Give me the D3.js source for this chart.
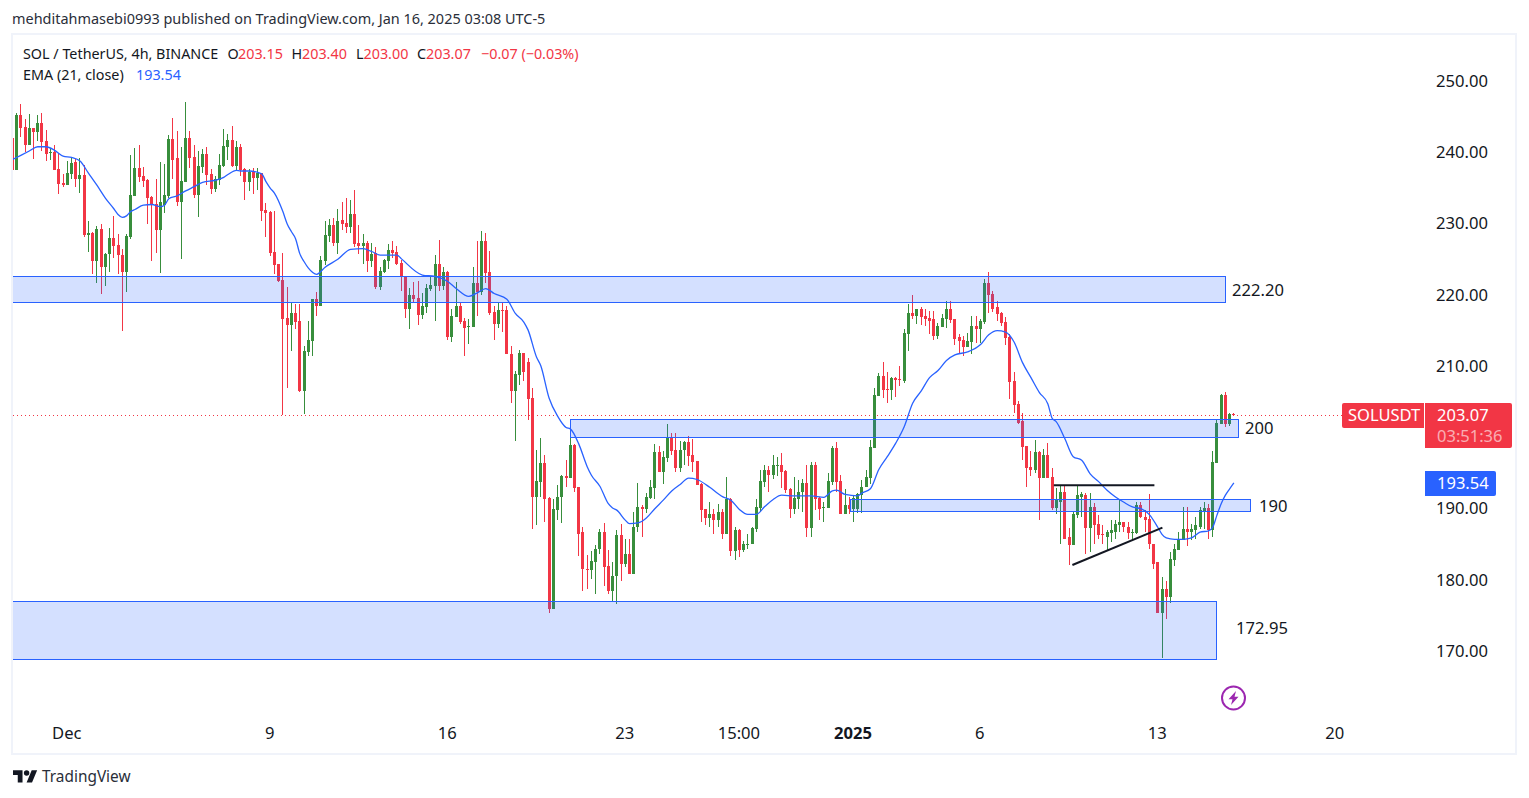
<!DOCTYPE html>
<html>
<head>
<meta charset="utf-8">
<script src="https://cdnjs.cloudflare.com/ajax/libs/d3/7.8.5/d3.min.js"></script>
<style>
html,body{margin:0;padding:0;background:#fff;overflow:hidden}
svg{display:block}
text{font-family:"Noto Sans",sans-serif}
</style>
</head>
<body>
<svg id="c" width="1529" height="798"></svg>
<script>
// 4h candles; the first one is cut by the left edge of the pane (index -1)
const firstIndex = -1;
const opens = [242.0,237.4,245.2,243.5,240.9,243.3,242.8,244.1,241.5,239.9,
240.0,237.6,235.6,235.3,236.9,238.6,236.2,236.7,228.3,228.6,
224.7,229.1,223.8,225.6,227.9,226.9,225.5,223.1,228.0,233.8,
237.7,236.6,236.0,233.6,232.7,229.0,232.5,233.8,241.8,239.1,
232.9,235.7,241.9,239.3,233.9,237.9,239.7,236.9,234.8,236.0,
238.0,240.7,241.6,238.0,240.7,237.6,235.7,237.3,236.3,237.0,
231.8,231.5,225.9,224.2,222.0,216.6,215.7,217.3,216.2,206.4,
211.9,213.4,219.3,218.3,224.6,228.2,229.7,227.2,230.4,230.0,
229.4,231.3,227.2,226.8,227.2,224.6,225.8,221.0,223.1,224.6,
226.2,225.9,224.4,222.5,217.9,219.9,219.5,217.1,218.2,220.7,
221.1,224.2,221.1,223.1,214.0,216.8,218.3,216.2,215.4,215.4,
221.6,220.3,227.5,223.1,217.5,215.8,217.8,217.8,211.6,206.4,
208.6,211.7,210.5,205.4,191.6,193.6,196.3,191.4,175.8,189.7,
191.5,194.5,194.2,198.8,192.9,186.6,181.5,181.3,182.4,184.2,
186.6,181.8,178.3,180.4,186.2,182.1,183.5,180.7,187.3,190.1,
189.8,191.4,192.8,197.8,195.0,197.0,199.8,198.1,195.6,198.1,
199.2,197.4,196.6,193.3,189.8,188.6,189.1,188.3,189.4,186.4,
191.2,183.9,186.9,184.1,184.9,184.9,187.0,190.0,193.6,195.4,
194.6,195.9,196.1,195.2,192.6,189.8,191.2,192.2,193.5,187.2,
196.1,191.4,190.0,190.0,193.6,198.4,193.8,189.1,190.4,189.8,
189.8,191.8,192.9,194.2,198.4,205.7,208.5,206.7,206.5,208.2,
208.1,207.8,214.4,217.4,216.9,217.9,216.9,216.6,216.5,214.1,
215.4,216.5,217.9,216.5,214.0,213.6,212.6,213.3,215.5,215.1,
216.1,221.6,220.0,218.2,217.3,216.1,214.0,207.8,204.6,202.2,
198.7,195.7,195.3,197.8,194.2,197.4,194.3,190.0,190.9,192.2,
185.9,184.8,189.0,191.6,191.8,187.2,190.2,187.7,186.3,186.0,
186.5,186.7,187.6,188.0,187.3,186.5,186.5,190.4,188.8,188.4,
185.0,182.4,175.2,178.7,177.5,182.7,184.1,185.5,187.0,186.7,
186.9,187.4,189.5,190.0,186.9,196.3,201.8,205.8,201.8,203.15];
const closes = [237.4,245.2,243.3,240.9,243.3,242.8,244.1,241.4,239.7,240.0,
237.4,235.5,235.3,237.0,238.4,236.2,236.7,228.3,228.6,224.7,
229.1,223.8,225.6,227.9,226.8,225.5,223.1,228.2,233.9,237.7,
236.4,235.9,233.5,232.5,229.0,232.9,233.9,241.8,238.8,232.9,
235.9,241.9,239.1,233.9,238.0,239.7,236.7,234.8,236.2,238.1,
240.8,241.6,238.0,240.7,237.4,235.7,237.2,236.3,237.0,231.7,
231.4,225.8,224.1,221.8,216.5,215.7,217.3,216.1,206.4,212.0,
213.6,219.3,218.3,224.8,228.3,229.7,227.2,230.3,229.9,229.4,
231.3,227.0,226.8,227.2,224.6,225.6,221.0,223.2,224.8,226.2,
225.8,224.2,222.4,217.9,219.9,219.3,217.1,218.3,220.9,221.3,
224.2,221.1,223.1,214.0,216.9,218.3,216.1,215.2,215.5,221.6,
220.3,227.5,223.0,217.3,215.8,217.8,217.7,211.6,206.4,208.8,
211.7,209.1,205.3,191.6,193.8,196.3,191.2,175.8,189.8,191.6,
194.5,194.2,198.8,192.8,186.4,181.4,181.4,182.5,184.3,186.6,
181.7,178.3,180.5,186.2,182.1,183.5,180.7,187.4,190.1,189.8,
191.5,192.9,197.8,195.0,197.1,199.8,198.0,195.6,198.2,199.2,
197.3,196.4,193.2,189.7,188.6,189.1,188.3,189.4,186.4,191.2,
183.9,186.9,184.1,185.0,185.0,187.2,190.1,193.8,195.4,194.6,
196.0,196.0,195.0,192.5,189.8,191.4,192.3,193.5,187.2,196.1,
191.2,189.8,190.1,193.8,198.4,193.6,189.1,190.4,189.8,191.4,
191.9,193.0,194.3,198.5,205.8,208.5,206.5,206.5,208.2,207.9,
207.9,214.5,217.4,216.9,217.9,216.8,216.5,216.2,214.1,215.5,
216.6,217.9,216.4,213.7,213.4,212.6,213.4,215.5,215.1,216.2,
221.6,219.9,218.0,217.2,216.0,213.8,207.7,204.4,202.0,198.5,
195.6,195.3,197.8,194.2,197.4,194.2,190.0,191.2,192.2,185.7,
184.8,189.1,191.8,191.9,187.2,190.2,187.6,186.2,186.2,186.6,
186.9,187.7,188.0,187.3,186.5,186.6,190.4,188.7,188.3,184.9,
182.2,175.2,178.7,177.5,182.8,184.2,185.6,187.0,186.7,187.0,
187.6,189.7,190.0,186.9,196.4,201.9,205.8,201.8,203.2,203.07];
const highs = [242.0,245.4,246.7,244.6,245.3,243.3,245.2,245.4,243.0,240.5,
241.0,239.8,236.9,238.7,239.3,239.0,239.1,238.1,230.3,228.7,
229.6,229.9,225.8,229.3,231.0,228.4,226.3,228.4,239.5,240.5,
240.9,237.9,236.2,233.8,236.2,238.6,238.3,242.3,244.7,242.9,
240.7,247.0,242.9,240.9,240.1,240.4,240.7,237.6,236.6,239.7,
243.2,242.5,243.6,241.5,241.1,237.7,237.6,237.7,237.7,237.0,
232.8,231.7,231.7,224.2,225.8,221.0,218.9,218.6,218.6,212.7,
216.2,219.3,220.3,225.4,230.3,230.6,230.7,232.0,232.9,233.5,
233.2,234.6,229.7,228.4,227.5,227.2,226.6,223.8,224.9,227.0,
227.5,226.8,224.8,222.5,220.9,221.7,221.8,220.2,221.4,222.4,
225.5,227.6,223.8,223.2,218.0,221.7,218.9,216.6,216.5,223.8,
227.5,228.9,228.6,226.1,218.3,218.9,218.8,218.3,212.7,209.2,
212.2,211.7,211.0,206.9,198.1,199.8,197.4,191.5,191.2,193.2,
194.7,196.7,202.3,199.0,193.0,187.4,183.4,183.9,184.8,187.0,
187.9,184.1,182.4,186.9,187.7,185.6,185.7,189.5,193.5,190.4,
192.1,193.9,199.0,198.7,198.0,201.8,200.5,200.5,199.4,199.4,
200.1,199.7,196.6,193.5,189.9,190.9,189.9,190.5,189.8,194.3,
191.4,187.3,187.0,185.3,186.3,187.4,191.2,195.3,196.0,195.9,
197.4,197.1,197.7,195.4,192.8,194.3,193.9,194.0,196.0,196.4,
196.4,191.5,190.8,194.9,198.7,199.2,194.7,192.6,191.5,191.8,
192.1,193.9,195.3,199.6,206.8,208.9,210.5,209.1,208.4,208.4,
209.9,215.1,218.6,219.9,218.0,218.2,217.9,217.6,217.6,215.9,
217.2,219.0,219.0,216.5,214.4,214.1,214.5,216.9,216.9,216.5,
222.1,223.1,220.4,219.0,217.5,216.8,214.4,209.1,205.0,203.3,
198.7,198.0,199.5,198.0,198.3,199.1,195.6,192.8,193.2,193.1,
187.2,189.5,193.2,192.2,192.1,192.1,190.7,189.0,187.6,186.9,
188.3,188.3,191.2,188.1,188.0,187.0,190.8,190.8,189.7,191.9,
185.0,182.4,180.3,179.7,183.8,185.0,186.7,190.1,190.1,187.7,
188.8,190.2,190.8,190.5,198.0,202.3,206.0,206.3,203.4,203.4];
const lows = [237.4,237.4,242.1,240.0,240.9,239.0,241.5,240.1,238.7,238.8,
237.4,234.1,235.1,235.3,236.2,235.0,234.2,228.0,225.9,222.8,
221.6,220.0,221.1,223.1,225.1,222.8,214.9,220.3,227.7,233.8,
235.7,235.0,229.9,224.7,225.8,223.0,231.4,233.5,236.2,232.4,
224.9,235.7,237.7,233.5,230.8,237.0,235.3,234.1,234.3,235.3,
237.9,238.8,237.9,237.4,236.6,233.2,234.5,234.1,234.6,230.3,
228.0,225.4,222.8,221.7,203.0,206.9,212.1,215.1,206.3,203.2,
211.3,211.4,216.9,218.3,224.1,227.3,226.8,225.6,229.0,228.6,
228.6,226.6,225.6,224.2,223.1,223.8,220.7,220.6,223.0,223.5,
225.1,224.1,220.4,216.6,215.1,218.9,215.7,216.5,217.3,220.4,
216.2,220.4,220.6,213.6,213.3,216.8,215.8,211.3,213.0,215.4,
216.9,219.9,221.6,217.1,213.6,215.2,214.7,211.6,204.7,199.4,
207.2,207.8,202.3,187.0,187.6,191.6,188.1,175.2,175.8,188.3,
187.9,193.0,194.2,192.2,183.2,178.3,178.7,180.0,177.9,183.6,
179.0,177.9,176.9,176.5,179.8,181.7,180.7,180.7,186.7,186.0,
189.3,191.2,191.2,195.0,193.3,196.4,197.5,195.0,195.0,196.0,
195.9,195.0,193.2,188.1,187.6,187.4,186.4,187.3,185.6,186.4,
183.2,182.7,183.1,183.8,184.2,184.9,186.7,189.5,193.0,192.3,
194.0,194.5,192.8,192.1,188.6,189.1,189.8,189.4,186.0,185.9,
189.7,188.3,188.0,190.0,193.2,192.3,189.1,189.1,189.1,188.0,
189.3,189.3,192.9,193.3,198.4,205.7,205.4,204.7,205.1,205.6,
207.1,207.5,212.0,216.5,215.8,215.7,215.5,214.4,213.6,213.7,
215.4,215.2,216.0,212.9,211.6,211.4,212.6,211.6,213.1,213.1,
215.8,217.4,217.5,216.2,215.5,212.9,205.3,203.4,201.8,196.7,
193.0,194.5,194.9,188.3,194.2,194.2,189.7,189.1,185.0,185.7,
182.0,184.8,188.6,188.8,183.5,183.8,185.0,185.7,185.0,184.1,
185.2,185.6,186.6,186.7,185.6,185.3,186.3,188.6,186.6,184.2,
181.5,175.2,168.9,174.4,176.6,181.8,184.1,185.5,184.6,185.5,
185.7,187.0,187.0,185.7,186.0,196.3,201.8,201.3,201.5,203.0];

// EMA (21, close) read at these candle indices
const emaIndex = [-1,1,3,5,7,9,11,13,15,17,19,21,23,24,25,26,27,28,30,32,34,35,36,38,40,42,44,47,49,50,52,53,55,58,59,60,61,63,64,65,66,67,68,69,71,73,76,79,82,84,86,90,91,96,99,102,104,107,109,111,113,116,118,120,121,123,124,126,128,130,131,133,135,136,138,140,141,142,144,145,147,149,151,153,155,157,159,161,164,166,167,169,171,173,175,177,179,181,184,188,191,193,194,196,199,200,202,204,206,208,210,212,214,216,218,220,222,225,228,230,232,234,236,238,240,242,244,245,246,248,250,252,254,256,258,260,262,264,266,268,270,271,272,274,276,278,280,282,283,284,285,286,287,288];
const emaValues = [238.9,239.5,240.1,240.7,240.7,240.2,239.4,239.2,238.7,237.0,235.3,233.5,232.0,231.2,230.8,231.0,231.6,231.9,232.5,232.6,232.3,232.5,233.4,233.8,234.5,235.1,235.7,236.0,236.4,236.8,237.4,237.3,237.3,236.9,235.8,234.9,234.2,231.6,229.9,228.8,227.8,225.7,224.6,223.7,222.8,223.8,224.9,226.3,226.4,226.0,225.5,225.5,225.0,222.7,222.5,221.8,220.8,219.7,220.2,220.8,220.1,219.3,217.3,216.1,215.0,211.2,210.0,205.4,202.9,201.3,201.1,199.0,195.8,194.6,193.05,190.6,190.0,189.7,188.3,187.8,187.9,188.6,189.9,191.1,192.4,193.3,194.2,194.0,192.9,192.0,191.6,191.1,189.8,189.1,189.1,190.2,191.2,191.8,191.7,191.7,191.5,192.4,192.5,191.9,191.7,192.1,192.7,195.4,197.2,199.1,201.4,204.7,206.4,208.3,209.3,210.7,211.5,211.9,212.9,214.3,214.9,214.7,213.3,210.4,208.3,206.2,204.6,202.6,202.1,199.75,197.2,196.7,194.8,193.7,192.5,191.55,190.8,190.15,189.9,189.07,187.3,186.3,185.8,185.6,185.6,185.8,186.6,186.8,187.3,189.0,190.6,191.8,192.7,193.54];

// Rectangles drawn on the chart
const zoneTops = [222.56,202.49,191.22,176.88];
const zoneBottoms = [218.9,199.95,189.54,168.77];
const zoneStarts = [-2,131,197.1,-2];
const zoneEnds = [286,289,291.8,283.75];
const zoneLabels = ["222.20","200","190","172.95"];

// Hand-drawn trend lines: [start index, start price, end index, end price]
const trendStartIndex = [245.4,249.8];
const trendStartPrice = [193.18,182.0];
const trendEndIndex = [269.2,271.1];
const trendEndPrice = [193.2,187.24];

const priceTicks = [250,240,230,220,210,190,180,170];
const timeTickIndex = [12,60,102,144,171,198,228,270,312];
const timeTickLabels = ["Dec","9","16","23","15:00","2025","6","13","20"];

const lastPrice = 203.07;
const emaLast = 193.54;

const UP = "#388e3c", DOWN = "#f23645", BLUE = "#2962ff", TEXT = "#131722";
const svg = d3.select("#c");
const x = d3.scaleLinear().domain([0,312]).range([16.6,1335.3]);
const y = d3.scaleLinear().domain([250,170]).range([80.5,650.5]);

// frame
svg.append("rect").attr("x",12).attr("y",34).attr("width",1504).attr("height",720)
  .attr("fill","#fff").attr("stroke","#f0f3fa").attr("stroke-width",2);
svg.append("clipPath").attr("id","pane").append("rect")
  .attr("x",13).attr("y",35).attr("width",1502).attr("height",718);
const pane = svg.append("g").attr("clip-path","url(#pane)");

// last price line
pane.append("line").attr("x1",13).attr("x2",1342)
  .attr("y1",Math.round(y(lastPrice))+.5).attr("y2",Math.round(y(lastPrice))+.5)
  .attr("stroke",DOWN).attr("stroke-width",1).attr("stroke-dasharray","1 3");

// candles
const candles = opens.map((o,k)=>({i:k+firstIndex,o,c:closes[k],h:highs[k],l:lows[k]}));
const col = d=>Math.round(x(d.i)-.5);
const gC = pane.append("g").attr("shape-rendering","crispEdges");
gC.selectAll("rect.w").data(candles).join("rect").attr("class","w")
  .attr("x",col).attr("width",1)
  .attr("y",d=>Math.round(y(d.h)))
  .attr("height",d=>Math.max(1,Math.round(y(d.l))-Math.round(y(d.h))))
  .attr("fill",d=>d.c>=d.o?UP:DOWN);
gC.selectAll("rect.b").data(candles).join("rect").attr("class","b")
  .attr("x",d=>col(d)-1).attr("width",3)
  .attr("y",d=>Math.round(y(Math.max(d.o,d.c))))
  .attr("height",d=>Math.max(1,Math.round(y(Math.min(d.o,d.c)))-Math.round(y(Math.max(d.o,d.c)))))
  .attr("fill",d=>d.c>=d.o?UP:DOWN);

// EMA
pane.append("path").datum(emaIndex.map((v,k)=>[v,emaValues[k]]))
  .attr("fill","none").attr("stroke",BLUE).attr("stroke-width",1.3).attr("stroke-linejoin","round")
  .attr("d",d3.line().x(d=>x(d[0])).y(d=>y(d[1])).curve(d3.curveMonotoneX));

// zones
pane.selectAll("rect.z").data(zoneTops).join("rect").attr("class","z")
  .attr("x",(d,k)=>Math.round(x(zoneStarts[k]))+.5)
  .attr("width",(d,k)=>Math.round(x(zoneEnds[k]))-Math.round(x(zoneStarts[k])))
  .attr("y",d=>Math.round(y(d))+.5)
  .attr("height",(d,k)=>Math.round(y(zoneBottoms[k]))-Math.round(y(d)))
  .attr("fill","rgba(41,98,255,.2)").attr("stroke",BLUE).attr("stroke-width",1);

// trend lines
pane.selectAll("line.t").data(trendStartIndex).join("line").attr("class","t")
  .attr("x1",d=>x(d)).attr("y1",(d,k)=>y(trendStartPrice[k]))
  .attr("x2",(d,k)=>x(trendEndIndex[k])).attr("y2",(d,k)=>y(trendEndPrice[k]))
  .attr("stroke","#131722").attr("stroke-width",2);

// zone labels
const zoneLabelX = [1232,1245,1259,1236], zoneLabelY = [290,428,506,628];
svg.selectAll("text.zl").data(zoneLabels).join("text").attr("class","zl")
  .attr("x",(d,k)=>zoneLabelX[k]).attr("y",(d,k)=>zoneLabelY[k]).attr("dy",".35em")
  .attr("font-size",16.6).attr("fill",TEXT).text(d=>d);

// axes
const axP = svg.append("g").attr("transform","translate(1436,0.5)")
  .call(d3.axisRight(y).tickValues(priceTicks).tickSize(0).tickPadding(0).tickFormat(d3.format(".2f")));
axP.select(".domain").remove();
axP.selectAll("text").attr("font-size",16.6).attr("fill",TEXT).attr("font-family",'"Noto Sans",sans-serif');

const axT = svg.append("g").attr("transform","translate(-1,727.5)")
  .call(d3.axisBottom(x).tickValues(timeTickIndex).tickSize(0).tickPadding(0)
    .tickFormat((d,k)=>timeTickLabels[k]));
axT.select(".domain").remove();
axT.selectAll("text").attr("font-size",16.6).attr("fill",TEXT).attr("font-family",'"Noto Sans",sans-serif')
  .attr("font-weight",d=>d===198?"700":"400");

// header
svg.append("text").attr("x",12).attr("y",24).attr("font-size",14.45).attr("fill","#2a2e39")
  .text("mehditahmasebi0993 published on TradingView.com, Jan 16, 2025 03:08 UTC-5");

const legend = [
  [23,59,"SOL / TetherUS, 4h, BINANCE",TEXT],
  [227.5,59,"O",TEXT],[238,59,"203.15",DOWN],
  [291.5,59,"H",TEXT],[302,59,"203.40",DOWN],
  [356,59,"L",TEXT],[363.5,59,"203.00",DOWN],
  [417,59,"C",TEXT],[426,59,"203.07",DOWN],
  [481,59,"\u22120.07 (\u22120.03%)",DOWN],
  [23,80,"EMA (21, close)",TEXT],[136,80,"193.54",BLUE]
];
svg.selectAll("text.lg").data(legend).join("text").attr("class","lg")
  .attr("x",d=>d[0]).attr("y",d=>d[1]).attr("font-size",14.35).attr("fill",d=>d[3]).text(d=>d[2]);

// price tags
svg.append("path").attr("d",roundedLeft(1342,403,82,25)).attr("fill",DOWN);
svg.append("path").attr("d",roundedRight(1425,403,87,45)).attr("fill",DOWN);
svg.append("path").attr("d",roundedRight(1425,471,71,25)).attr("fill",BLUE);
function roundedLeft(a,b,w,h){const r=2;return `M${a+r},${b}H${a+w}V${b+h}H${a+r}Q${a},${b+h} ${a},${b+h-r}V${b+r}Q${a},${b} ${a+r},${b}Z`}
function roundedRight(a,b,w,h){const r=2;return `M${a},${b}H${a+w-r}Q${a+w},${b} ${a+w},${b+r}V${b+h-r}Q${a+w},${b+h} ${a+w-r},${b+h}H${a}Z`}
const tags = [
  [1348,415.5,"SOLUSDT",1],[1437,415.5,d3.format(".2f")(lastPrice),1],
  [1437,436,"03:51:36",.6],[1437,483.5,d3.format(".2f")(emaLast),1]
];
svg.selectAll("text.tg").data(tags).join("text").attr("class","tg")
  .attr("x",d=>d[0]).attr("y",d=>d[1]).attr("dy",".35em").attr("font-size",16.5)
  .attr("fill","#fff").attr("fill-opacity",d=>d[3]).text(d=>d[2]);

// bolt icon
const bolt = svg.append("g").attr("transform","translate(1233.5,698)");
bolt.append("circle").attr("r",11.5).attr("fill","#fff").attr("stroke","#9c27b0").attr("stroke-width",2);
bolt.append("path").attr("d","M2.5,-7L-5,1.2H-1L-2.5,7L5,-1.2H1Z").attr("fill","#9c27b0");

// logo + footer
const logo = svg.append("g").attr("transform","translate(13,767.5) scale(.68)").attr("fill","#131722");
logo.append("path").attr("d","M14 22H7V11H0V4h14v18zM28 22h-8l7.5-18h8L28 22z");
logo.append("circle").attr("cx",20).attr("cy",8).attr("r",4);
svg.append("text").attr("x",42).attr("y",782).attr("font-size",15.4).attr("fill","#2a2e39").text("TradingView");
</script>
</body>
</html>
